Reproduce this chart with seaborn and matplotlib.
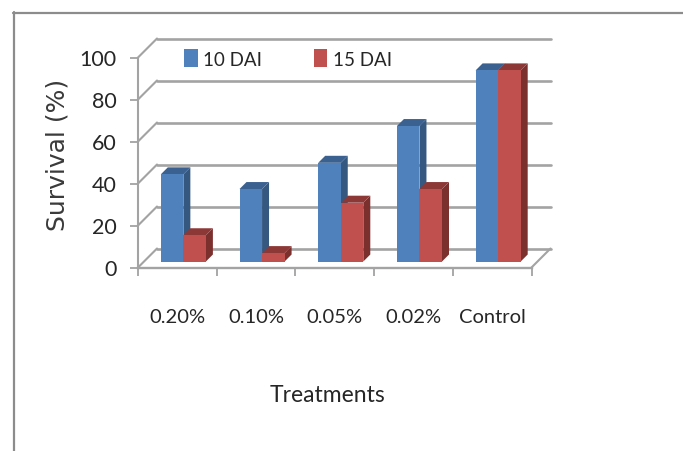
import matplotlib
matplotlib.use("Agg")
import matplotlib.pyplot as plt
from matplotlib.lines import Line2D
from matplotlib.patches import Polygon
import pandas as pd
import seaborn as sns

treatments = ["0.20%", "0.10%", "0.05%", "0.02%", "Control"]
dai_10 = [41.5, 34.5, 47, 64.5, 91]
dai_15 = [12.5, 4, 28, 34.5, 91]
y_ticks = [0, 20, 40, 60, 80, 100]

W, H = 683, 452
FRONT = (138, 531.5, 268.5, 58.5)  # left, right, y of 0, y of 100, in pixels
BLUE, BLUE_SIDE, BLUE_TOP = "#4F81BD", "#34587F", "#3A6190"
RED, RED_SIDE, RED_TOP = "#C0504D", "#7C302E", "#8C3836"
GRID = "#a3a3a3"
TEXT = "#262626"
FONT = "Lato"


def add_plane(off):
    l, r, y0, y100 = FRONT
    rect = [(l + off) / W, 1 - (y0 - off) / H, (r - l) / W, (y0 - y100) / H]
    a = fig.add_axes(rect)
    a.set_xlim(-0.5, 4.5)
    a.set_ylim(0, 100)
    a.patch.set_alpha(0)
    for s in a.spines.values():
        s.set_visible(False)
    return a


sns.set_theme(style="white")
fig = plt.figure(figsize=(W / 100, H / 100), dpi=100, facecolor="white")

ux = (FRONT[1] - FRONT[0]) / 5  # pixels per category
uy = (FRONT[2] - FRONT[3]) / 100  # pixels per percent

# back wall, 19 px behind the axes
wall = add_plane(19)
wall.set_xticks([])
wall.set_yticks(y_ticks)
wall.tick_params(left=False, labelleft=False)
wall.grid(axis="y", color=GRID, lw=1.9)
wall.set_xlabel("")
for g in wall.get_ygridlines():
    g.set_clip_on(False)

# front plane, carries the ticks and labels
front = add_plane(0)
front.spines["left"].set_visible(True)
front.spines["bottom"].set_visible(True)
front.spines["left"].set_color(GRID)
front.spines["bottom"].set_color(GRID)
front.spines["left"].set_linewidth(1.5)
front.spines["bottom"].set_linewidth(1.7)
front.set_yticks(y_ticks)
front.set_xticks([i - 0.5 for i in range(6)])
front.set_xticklabels([])
front.set_xticks(range(5), treatments, minor=True)
front.tick_params(axis="x", which="major", length=6, width=1.3, color=GRID, bottom=True)
front.tick_params(axis="x", which="minor", length=0, pad=29.5, labelsize=14.5, labelcolor=TEXT)
front.tick_params(axis="y", length=6, width=1.3, color=GRID, left=True, pad=9.5,
                  labelsize=15.5, labelcolor=TEXT)
for lab in front.get_xticklabels(minor=True) + front.get_yticklabels():
    lab.set_family(FONT)
front.set_xlabel("Treatments", family=FONT, fontsize=16.5, color=TEXT)
front.xaxis.set_label_coords((328 - FRONT[0]) / (FRONT[1] - FRONT[0]),
                             (FRONT[2] - 396) / (FRONT[2] - FRONT[3]), front.transAxes)
front.xaxis.label.set_verticalalignment("center")
front.set_ylabel("Survival (%)", family="DejaVu Sans", fontsize=18, color="#3a3a3a")
front.yaxis.set_label_coords((58 - FRONT[0]) / (FRONT[1] - FRONT[0]),
                             (FRONT[2] - 155) / (FRONT[2] - FRONT[3]), front.transAxes)
front.yaxis.label.set_verticalalignment("center")

# connectors from the front plane to the wall
dx, dy = 19 / ux, 19 / uy
for v in y_ticks:
    front.add_line(Line2D([-0.5, -0.5 + dx], [v, v + dy], color=GRID, lw=1.5, clip_on=False))
front.add_line(Line2D([4.5, 4.5 + dx], [0, dy], color=GRID, lw=1.5, clip_on=False))

# bars sit 6 px into the box
bars = add_plane(6)
df = pd.DataFrame({
    "Treatment": treatments * 2,
    "Survival": dai_10 + dai_15,
    "Stage": ["10 DAI"] * 5 + ["15 DAI"] * 5,
})
sns.barplot(data=df, x="Treatment", y="Survival", hue="Stage", palette=[BLUE, RED],
            width=0.573, saturation=1, gap=0, linewidth=0, ax=bars, zorder=5)
bars.set_xlim(-0.5, 4.5)
bars.set_ylim(0, 100)
bars.set_xlabel("")
bars.set_ylabel("")
bars.set_xticks([])
bars.set_yticks([])
bars.patch.set_alpha(0)

# side and top faces taken from each drawn bar
ddx, ddy = 7 / ux, 7 / uy
n = len(treatments)
shades = [(BLUE_SIDE, BLUE_TOP)] * n + [(RED_SIDE, RED_TOP)] * n
for i, (p, (side, top)) in enumerate(zip(bars.patches[:2 * n], shades)):
    x0, x1, h = p.get_x(), p.get_x() + p.get_width(), p.get_height()
    z = 2 if i < n else 3
    bars.add_patch(Polygon([(x1, 0), (x1 + ddx, ddy), (x1 + ddx, h + ddy), (x1, h)],
                           fc=side, ec="none", clip_on=False, zorder=z))
    bars.add_patch(Polygon([(x0, h), (x0 + ddx, h + ddy), (x1 + ddx, h + ddy), (x1, h)],
                           fc=top, ec="none", clip_on=False, zorder=z))

handles, labels = bars.get_legend_handles_labels()
bars.legend(handles, labels, ncol=2, frameon=False, loc="center left",
            bbox_to_anchor=(184 / W, 1 - 59.5 / H), bbox_transform=fig.transFigure,
            prop={"family": FONT, "size": 13.5}, labelcolor=TEXT,
            handlelength=0.72, handleheight=1.1, handletextpad=0.3, columnspacing=2.75,
            borderpad=0, borderaxespad=0)

# outer frame of the pasted chart, top and left only
fig.add_artist(Line2D([13 / W, 1], [1 - 13.5 / H] * 2, color="#8c8c8c", lw=1.6))
fig.add_artist(Line2D([13.5 / W] * 2, [0, 1 - 13 / H], color="#8c8c8c", lw=1.6))

fig.savefig("out.png", dpi=100)
